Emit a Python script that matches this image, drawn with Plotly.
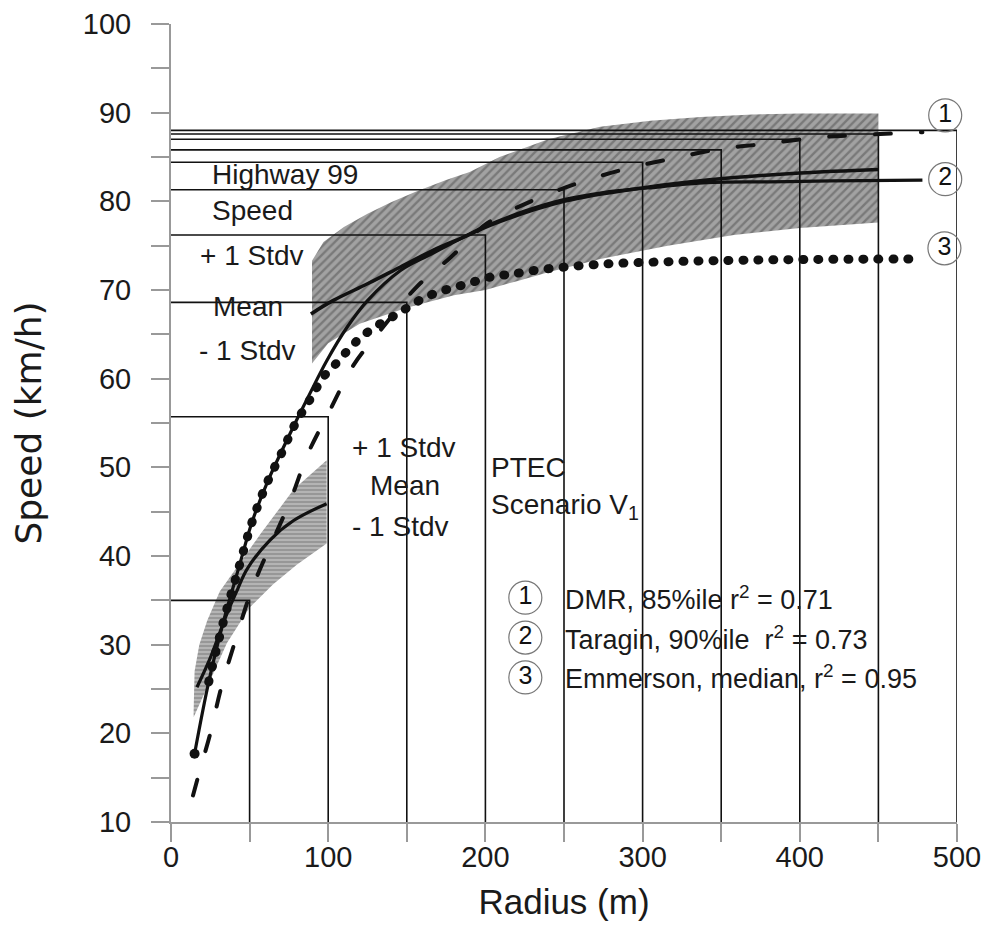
import plotly.graph_objects as go

# ---------------- data ----------------
# PTEC Scenario V1 staircase (radius, speed)
ptec_radius = [50, 100, 150, 200, 250, 300, 350, 400, 450, 500]
ptec_speed = [35.0, 55.7, 68.6, 76.2, 81.3, 84.4, 85.8, 87.0, 87.6, 88.0]

# (1) DMR, 85%ile (dashed)
dmr_r = [14, 18, 25, 32, 41, 52, 76, 87, 101, 116, 133, 156, 178, 201, 229, 258, 288, 318, 349, 379, 411, 441, 478]
dmr_v = [13.0, 15.6, 20.0, 25.2, 30.5, 36.5, 46.3, 51.5, 56.4, 61.5, 65.4, 70.3, 73.7, 77.5, 80.0, 82.0, 83.6, 84.8, 85.9, 86.5, 87.2, 87.5, 87.8]

# (2) Taragin, 90%ile (solid)
tar_r = [15, 24, 33.5, 43, 51.5, 61, 70.6, 79, 88, 99, 112, 125, 146, 165, 178, 199, 225, 250, 275, 303, 341, 380, 420, 478]
tar_v = [17.7, 25.8, 32.7, 38.6, 43.8, 48.2, 51.9, 55.0, 58.2, 62.0, 65.8, 68.8, 72.2, 74.0, 75.2, 77.1, 78.9, 80.2, 81.0, 81.5, 82.1, 82.2, 82.3, 82.4]

# (3) Emmerson, median (dotted)
emm_r = [24, 33.5, 43, 51.5, 61, 70.6, 79, 88.6, 97, 106.6, 115, 124.7, 135, 144, 153, 162, 171, 180, 189, 199, 208, 217, 235, 273, 318, 379, 475]
emm_v = [25.8, 32.7, 38.6, 43.8, 48.2, 51.7, 54.9, 57.7, 60.2, 62.0, 63.7, 65.2, 66.4, 67.3, 68.3, 69.2, 69.8, 70.3, 70.7, 71.3, 71.6, 71.8, 72.3, 72.9, 73.2, 73.4, 73.5]

# Highway 99 band
hw_up_r = [89.7, 97, 110, 125, 140, 156, 175, 190, 209, 240, 273, 305, 337, 370, 400, 450]
hw_up_v = [73.3, 75.4, 77.1, 78.6, 79.9, 81.1, 82.4, 83.3, 85.0, 87.0, 88.4, 89.1, 89.5, 89.8, 89.9, 89.9]
hw_lo_r = [89.7, 100, 120, 150, 180, 200, 220, 240, 273, 316, 358, 400, 450]
hw_lo_v = [61.7, 64.0, 66.2, 68.0, 69.4, 70.0, 71.0, 72.0, 73.5, 75.0, 76.2, 77.0, 77.6]
hw_mean_r = [89, 103, 125, 146, 167, 188, 203, 250, 303, 341, 400, 450]
hw_mean_v = [67.3, 68.8, 70.7, 72.6, 74.5, 76.1, 77.3, 80.0, 81.6, 82.4, 83.2, 83.6]

# low-radius band
sb_up_r = [14.4, 15, 18, 23, 31, 42, 57, 78, 99]
sb_up_v = [22.5, 27.0, 30.0, 32.7, 36.0, 38.8, 42.5, 47.5, 50.8]
sb_lo_r = [14.4, 23, 35.6, 50, 65, 80, 99]
sb_lo_v = [21.8, 25.3, 30.2, 34.2, 36.8, 39.0, 41.4]
sb_mean_r = [16.5, 25, 35.6, 42, 48.3, 63, 78, 99]
sb_mean_v = [25.2, 28.5, 33.5, 36.1, 38.5, 41.8, 44.0, 45.9]

# text labels
lab_text = ["Highway 99", "Speed", "+ 1 Stdv", "Mean", "- 1 Stdv",
            "+ 1 Stdv", "Mean", "- 1 Stdv", "PTEC", "Scenario V<sub>1</sub>"]
lab_x = [25, 25, 17.4, 25.5, 16.7, 114, 125.5, 114, 202, 202]
lab_y = [83.0, 79.0, 73.9, 68.1, 63.2, 52.2, 48.0, 43.3, 50.0, 45.6]

# numbered circles at curve ends
end_num = ["1", "2", "3"]
end_x = [492.5, 492.5, 492.0]
end_y = [89.7, 82.5, 74.7]

# key
key_num = ["1", "2", "3"]
key_text = ["DMR, 85%ile r<sup>2</sup> = 0.71",
            "Taragin, 90%ile  r<sup>2</sup> = 0.73",
            "Emmerson, median, r<sup>2</sup> = 0.95"]
key_cx = 225.4
key_tx = 249.5
key_y = [35.3, 30.8, 26.3]

FONT = "Liberation Sans, Arial, sans-serif"
WIDE = "DejaVu Sans, Liberation Sans, sans-serif"

fig = go.Figure()

# bands
fig.add_trace(go.Scatter(
    x=hw_up_r + hw_lo_r[::-1], y=hw_up_v + hw_lo_v[::-1],
    fill="toself", mode="lines", line=dict(width=0, color="#8a8a8a"),
    fillcolor="#9a9a9a",
    fillpattern=dict(shape="/", bgcolor="#a2a2a2", fgcolor="#505050", size=6, solidity=0.4),
    hoverinfo="skip", showlegend=False))
fig.add_trace(go.Scatter(
    x=sb_up_r + sb_lo_r[::-1], y=sb_up_v + sb_lo_v[::-1],
    fill="toself", mode="lines", line=dict(width=0, color="#9a9a9a"),
    fillcolor="#b0b0b0",
    fillpattern=dict(shape="-", bgcolor="#b4b4b4", fgcolor="#6a6a6a", size=4, solidity=0.4),
    hoverinfo="skip", showlegend=False))

# staircase lines
sx, sy = [], []
for r, v in zip(ptec_radius, ptec_speed):
    sx += [0, r, r, None]
    sy += [v, v, 10, None]
fig.add_trace(go.Scatter(x=sx, y=sy, mode="lines", line=dict(color="#111", width=1.6),
                         hoverinfo="skip", showlegend=False))

# mean lines of the bands
fig.add_trace(go.Scatter(x=hw_mean_r, y=hw_mean_v, mode="lines", line=dict(color="#111", width=3.5, shape="spline"),
                         showlegend=False))
fig.add_trace(go.Scatter(x=sb_mean_r, y=sb_mean_v, mode="lines", line=dict(color="#111", width=3.2, shape="spline"),
                         showlegend=False))

# curves
fig.add_trace(go.Scatter(x=tar_r, y=tar_v, mode="lines", line=dict(color="#111", width=3.2, shape="spline"),
                         showlegend=False))
fig.add_trace(go.Scatter(x=[tar_r[0]], y=[tar_v[0]], mode="markers", marker=dict(color="#111", size=10),
                         showlegend=False))
fig.add_trace(go.Scatter(x=dmr_r, y=dmr_v, mode="lines", uid="dmr",
                         line=dict(color="#111", width=4, dash="16px,30px", shape="spline"),
                         showlegend=False))
fig.add_trace(go.Scatter(x=emm_r, y=emm_v, mode="lines", uid="emm",
                         line=dict(color="#111", width=9, dash="1px,14px", shape="spline"),
                         showlegend=False))

# numbered circles
fig.add_trace(go.Scatter(x=end_x, y=end_y, mode="markers+text", text=end_num,
                         textposition="middle center", cliponaxis=False,
                         textfont=dict(family=FONT, size=25, color="#111"),
                         marker=dict(symbol="circle-open", size=33, color="#777", line=dict(width=1.2)),
                         showlegend=False))
fig.add_trace(go.Scatter(x=[key_cx] * 3, y=key_y, mode="markers+text", text=key_num,
                         textposition="middle center", cliponaxis=False,
                         textfont=dict(family=FONT, size=25, color="#111"),
                         marker=dict(symbol="circle-open", size=33, color="#777", line=dict(width=1.2)),
                         showlegend=False))

annotations = []
for t, x, y in zip(lab_text, lab_x, lab_y):
    annotations.append(dict(x=x, y=y, xref="x", yref="y", text=t, showarrow=False,
                            xanchor="left", yanchor="middle",
                            font=dict(family=FONT, size=28, color="#1a1a1a")))
for t, y in zip(key_text, key_y):
    annotations.append(dict(x=key_tx, y=y, xref="x", yref="y", text=t, showarrow=False,
                            xanchor="left", yanchor="middle",
                            font=dict(family=FONT, size=27, color="#1a1a1a")))

fig.update_layout(
    width=989, height=930,
    margin=dict(l=171, r=32, t=24, b=108, autoexpand=False),
    paper_bgcolor="white", plot_bgcolor="white",
    font=dict(family=FONT, size=28, color="#1a1a1a"),
    annotations=annotations,
    showlegend=False,
)
fig.update_xaxes(range=[0, 500], showgrid=False, zeroline=False, automargin=False,
                 showline=True, linecolor="#999", linewidth=2,
                 ticks="outside", ticklen=18, tickcolor="#999", tickwidth=1.5,
                 tick0=0, dtick=100, ticklabelstandoff=-10,
                 minor=dict(dtick=50, ticks="outside", ticklen=18, tickcolor="#999", tickwidth=1.5),
                 tickfont=dict(family=FONT, size=29, color="#1a1a1a"),
                 title=dict(text="Radius (m)", font=dict(family=FONT, size=35, color="#1a1a1a"), standoff=18))
fig.update_yaxes(range=[10, 100], showgrid=False, zeroline=False, automargin=False,
                 showline=True, linecolor="#999", linewidth=2,
                 ticks="outside", ticklen=18, tickcolor="#999", tickwidth=1.5,
                 tick0=10, dtick=10, ticklabelstandoff=14,
                 minor=dict(dtick=5, ticks="outside", ticklen=18, tickcolor="#999", tickwidth=1.5),
                 tickfont=dict(family=FONT, size=29, color="#1a1a1a"),
                 title=dict(text="Speed (km/h)", font=dict(family=WIDE, size=36, color="#1a1a1a"), standoff=30))

post = """
document.body.style.margin = '0';
document.body.style.padding = '0';
var gd = document.getElementById('{plot_id}');
function rc(){
  gd.querySelectorAll('.traceemm path.js-line, .tracedmr path.js-line').forEach(function(p){
    p.style.strokeLinecap = 'round';
  });
}
rc();
if (gd.on) { gd.on('plotly_afterplot', rc); }
setTimeout(rc, 50);
"""
fig.write_html("out.html", post_script=post, config={"displayModeBar": False})
